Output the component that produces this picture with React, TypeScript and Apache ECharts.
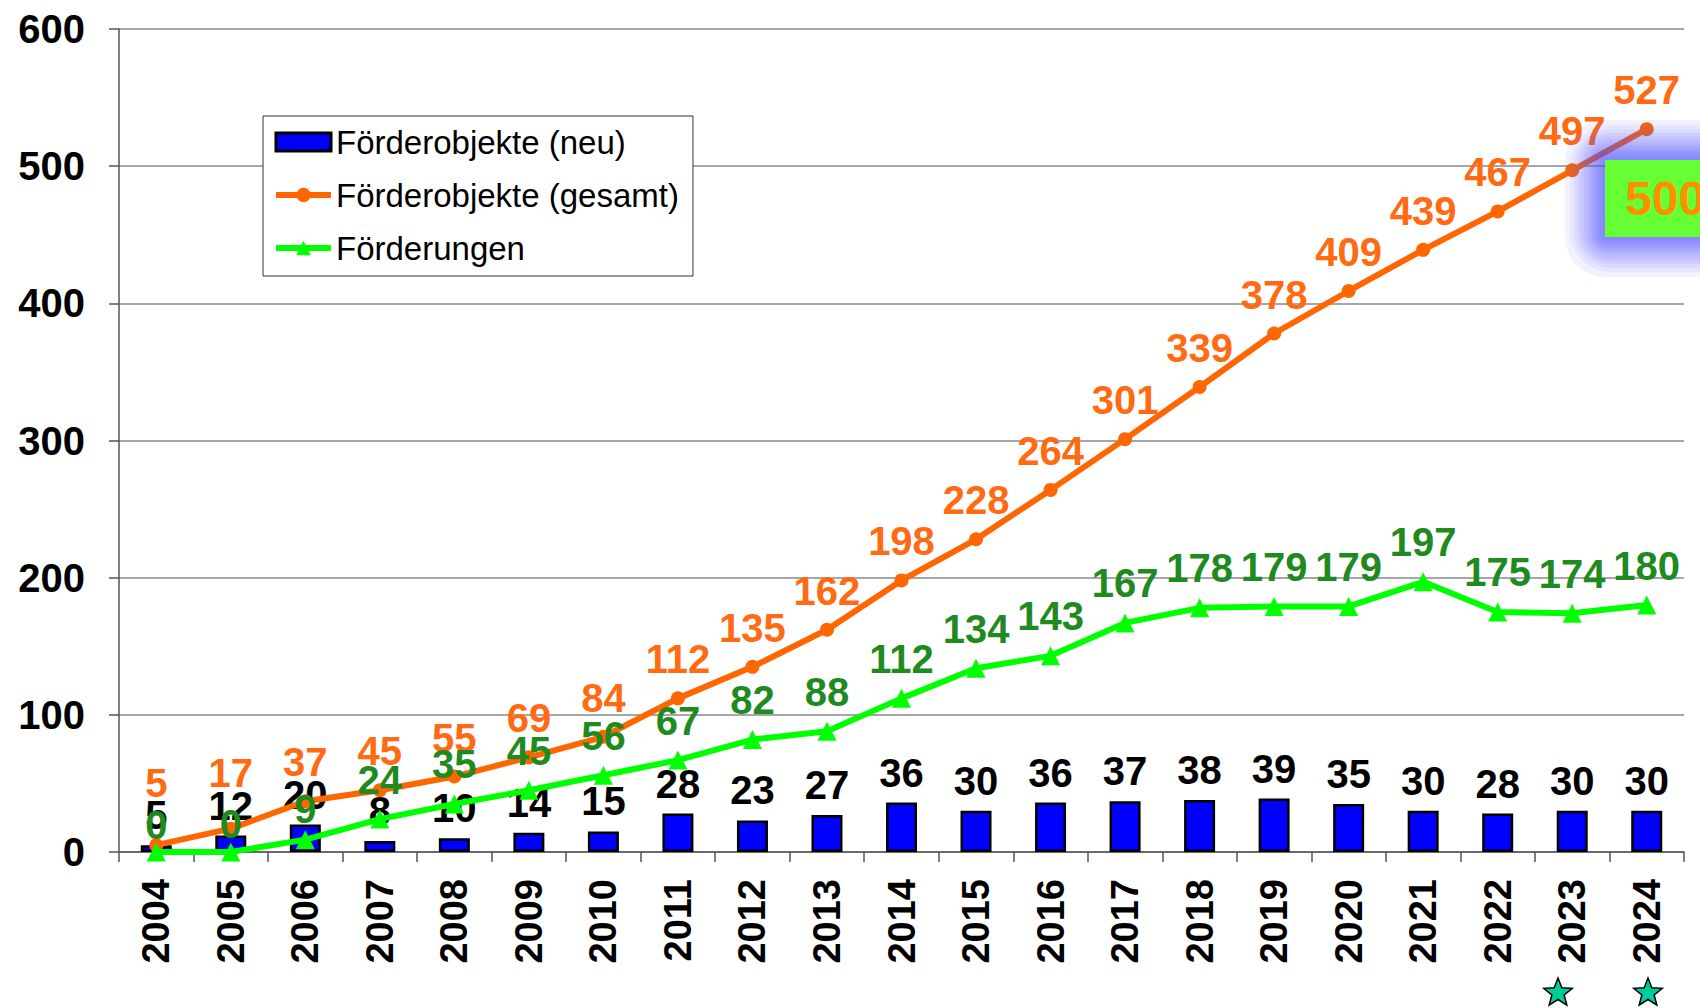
import React, { useEffect, useRef } from "react";
import * as echarts from "echarts";

const years = ["2004","2005","2006","2007","2008","2009","2010","2011","2012","2013","2014","2015","2016","2017","2018","2019","2020","2021","2022","2023","2024"];
const neu = [5,12,20,8,10,14,15,28,23,27,36,30,36,37,38,39,35,30,28,30,30];
const gesamt = [5,17,37,45,55,69,84,112,135,162,198,228,264,301,339,378,409,439,467,497,527];
const foerderungen = [0,0,9,24,35,45,56,67,82,88,112,134,143,167,178,179,179,197,175,174,180];
const yTicks = { min: 0, max: 600, interval: 100 };
const badgeText = "500";

const FONT = "'Liberation Sans', Arial, sans-serif";

// extra label shifts (pixels) that the reference shows for a few crowded points
const gesamtLabelShift: Record<number, number> = { 0: -23, 1: -17 };
const foerdLabelShift: Record<number, number> = { 0: 12, 1: 11, 2: 9 };

function starPoints(cx: number, cy: number, R: number, r: number) {
  const pts: number[][] = [];
  for (let i = 0; i < 10; i++) {
    const rad = i % 2 === 0 ? R : r;
    const a = -Math.PI / 2 + (i * Math.PI) / 5;
    pts.push([cx + rad * Math.cos(a), cy + rad * Math.sin(a)]);
  }
  return pts;
}

function withShift(values: number[], shifts: Record<number, number>) {
  return values.map((v, i) =>
    shifts[i] !== undefined ? { value: v, label: { offset: [0, shifts[i]] } } : v
  );
}

export default function App() {
  const ref = useRef<HTMLDivElement>(null);
  useEffect(() => {
    document.body.style.margin = "0";
    const chart = echarts.init(ref.current!, null, { renderer: "svg" });
    const labelBase = { show: true, fontFamily: FONT, fontWeight: "bold" as const, fontSize: 40 };

    const box = { x: 1605, y: 160, w: 130, h: 77 };
    const glowRects: any[] = [];
    // smooth glow: many thin layers, denser near the box
    const layers = [40, 35, 31, 27, 24, 21, 18, 15, 13, 11, 9, 7, 5, 3];
    layers.forEach((e) => {
      glowRects.push({
        type: "rect",
        shape: { x: box.x - e, y: box.y - e, width: box.w + 2 * e, height: box.h + 2 * e, r: Math.min(e * 1.2, 40) },
        style: { fill: "rgba(80,80,255,0.075)" },
        z: 100,
      });
    });

    chart.setOption({
      animation: false,
      backgroundColor: "#ffffff",
      textStyle: { fontFamily: FONT },
      grid: { left: 119, right: 16, top: 29, bottom: 156, containLabel: false },
      legend: {
        show: true,
        orient: "vertical",
        left: 263,
        top: 116,
        padding: [9, 14, 11, 10],
        backgroundColor: "#ffffff",
        borderColor: "#333333",
        borderWidth: 1,
        itemWidth: 55,
        itemHeight: 18,
        itemGap: 19,
        textStyle: { fontFamily: FONT, fontSize: 33, color: "#000", lineHeight: 34 },
        data: [
          { name: "Förderobjekte (neu)", icon: "rect", itemStyle: { borderWidth: 3, borderColor: "#000" } },
          { name: "Förderobjekte (gesamt)", lineStyle: { width: 6 } },
          { name: "Förderungen", lineStyle: { width: 6 } },
        ],
      },
      xAxis: {
        type: "category",
        data: years,
        axisLine: { show: true, lineStyle: { color: "#555", width: 1.5 } },
        axisTick: { show: true, length: 10, lineStyle: { color: "#555", width: 1.5 } },
        axisLabel: {
          rotate: 90,
          margin: 27,
          color: "#000",
          fontFamily: FONT,
          fontWeight: "bold",
          fontSize: 38,
        },
      },
      yAxis: {
        type: "value",
        min: yTicks.min,
        max: yTicks.max,
        interval: yTicks.interval,
        axisLine: { show: true, lineStyle: { color: "#555", width: 1.5 } },
        axisTick: { show: true, length: 10, lineStyle: { color: "#555", width: 1.5 } },
        splitLine: { show: true, lineStyle: { color: "#888", width: 1.5 } },
        axisLabel: {
          margin: 34,
          color: "#000",
          fontFamily: FONT,
          fontWeight: "bold",
          fontSize: 40,
        },
      },
      series: [
        {
          name: "Förderobjekte (neu)",
          type: "bar",
          data: neu,
          barWidth: 31,
          itemStyle: { color: "#0000ff", borderColor: "#000", borderWidth: 2.5 },
          label: { ...labelBase, position: "top", distance: 10, color: "#000" },
          z: 2,
        },
        {
          name: "Förderobjekte (gesamt)",
          type: "line",
          data: withShift(gesamt, gesamtLabelShift),
          symbol: "circle",
          symbolSize: 14,
          lineStyle: { color: "#ff6600", width: 6 },
          itemStyle: { color: "#ff6600" },
          label: { ...labelBase, position: "top", distance: 12, color: "#ff6a13" },
          z: 3,
        },
        {
          name: "Förderungen",
          type: "line",
          data: withShift(foerderungen, foerdLabelShift),
          symbol: "triangle",
          symbolSize: 19,
          lineStyle: { color: "#00ff00", width: 6 },
          itemStyle: { color: "#00ff00" },
          label: { ...labelBase, position: "top", distance: 10, color: "#1f8a1f" },
          z: 4,
        },
      ],
      graphic: [
        ...glowRects,
        {
          type: "rect",
          shape: { x: box.x, y: box.y, width: box.w, height: box.h },
          style: { fill: "#66ff33" },
          z: 101,
        },
        {
          type: "text",
          x: 1625,
          y: 198,
          style: {
            text: badgeText,
            fill: "#ff9000",
            font: `bold 48px ${FONT}`,
            verticalAlign: "middle",
          },
          z: 102,
        },
        {
          type: "polygon",
          shape: { points: starPoints(1558, 993, 15, 6.5) },
          style: { fill: "#00cc99", stroke: "#000", lineWidth: 1.5 },
          z: 100,
        },
        {
          type: "polygon",
          shape: { points: starPoints(1648, 993, 15, 6.5) },
          style: { fill: "#00cc99", stroke: "#000", lineWidth: 1.5 },
          z: 100,
        },
      ],
    });
    return () => chart.dispose();
  }, []);
  return <div ref={ref} style={{ position: "absolute", left: 0, top: 0, width: 1700, height: 1008 }} />;
}
